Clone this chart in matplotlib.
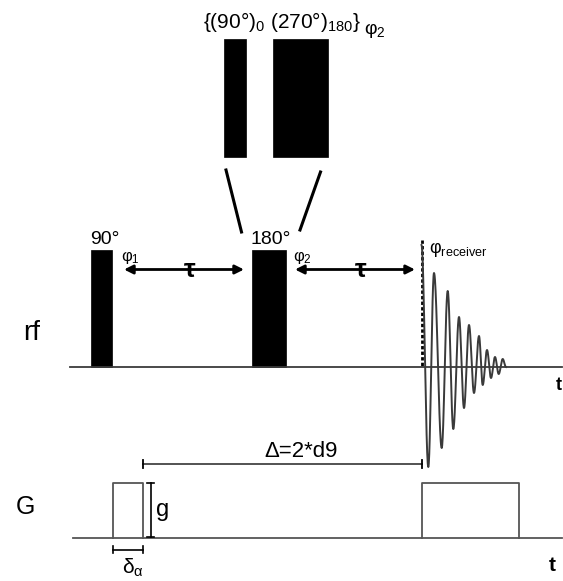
import numpy as np
import matplotlib.pyplot as plt
from matplotlib.patches import Rectangle

plt.rcParams['font.family'] = ['Liberation Sans', 'DejaVu Sans']
plt.rcParams['mathtext.fontset'] = 'custom'
plt.rcParams['mathtext.rm'] = 'Liberation Sans'
plt.rcParams['mathtext.it'] = 'Liberation Sans'
plt.rcParams['mathtext.bf'] = 'Liberation Sans:bold'

# time axis (drawing units) of the sequence
rf_base, g_base = 367, 538
rf_start, axis_end = 70, 562
g_start = 73

# rf pulses: (label, phase, start, end)
rf_pulses = [('90°', '1', 91, 112), ('180°', '2', 252, 286)]
rf_height = 117
acq_start = 421.5

# composite 180 expansion: (start, end)
composite = [(224, 246), (273, 328)]
comp_top, comp_bottom = 39, 157

# FID extrema (x, amplitude above baseline)
fid_x = [421.5, 428.3, 434, 441.7, 447.7, 453.3, 459, 464, 469, 474,
         479, 482.7, 487, 491, 495, 498.7, 502.7, 506]
fid_amp = [122, -100, 94, -81, 76, -62, 50, -41, 42, -26,
           31, -18, 17, -11, 10, -7, 8, 0]

# gradient pulses: (start, end)
g_pulses = [(113, 143), (422, 519)]
g_height = 55

delta_span = (143, 421.5)

fig = plt.figure(figsize=(5.63, 5.81), dpi=100)
ax = fig.add_axes([0, 0, 1, 1])
ax.set_xlim(0, 563)
ax.set_ylim(581, 0)
ax.axis('off')

line_col = '#3a3a3a'

# baselines
ax.plot([rf_start, axis_end], [rf_base, rf_base], color=line_col, lw=1.3)
ax.plot([g_start, axis_end], [g_base, g_base], color='#555555', lw=1.3)
ax.text(556, 377, 't', fontsize=13, fontweight='bold', va='top')
ax.text(552, 556, 't', fontsize=15, fontweight='bold', va='top', ha='center')

ax.text(32, 333, 'rf', fontsize=20, ha='center', va='center')
ax.text(25, 507, 'G', fontsize=18, ha='center', va='center')

# rf pulses and their labels
for label, ph, x0, x1 in rf_pulses:
    ax.add_patch(Rectangle((x0, rf_base - rf_height), x1 - x0, rf_height,
                           facecolor='black', edgecolor='black', lw=0.5))
    ax.text(x0 - 1, rf_base - rf_height - 6, label, fontsize=14,
            ha='left', va='baseline')
    ax.text(x1 + (9 if ph == '1' else 7), rf_base - rf_height - 1,
            r'φ$_{%s}$' % ph, fontsize=12, ha='left', va='top')

# tau arrows
for xa, xb in [(124, 244), (295, 415)]:
    ax.annotate('', xy=(xa, 269.5), xytext=(xb, 269.5),
                arrowprops=dict(arrowstyle='<|-|>', color='black', lw=2,
                                mutation_scale=13, shrinkA=0, shrinkB=0))
    ax.text((xa + xb) / 2 + 6, 277, 'τ', fontsize=19, fontweight='bold',
            ha='center', va='baseline')

# receiver trigger
ax.plot([acq_start, acq_start], [240, rf_base], color='black', lw=2,
        ls=(0, (1.2, 0.8)))
ax.text(429, 253, r'φ$_{\mathregular{receiver}}$', fontsize=13, ha='left',
        va='baseline')

# FID drawn as half-cosine segments between extrema
xs, ys = [], []
for i in range(len(fid_x) - 1):
    s = np.linspace(0, 1, 25)
    xs.append(fid_x[i] + (fid_x[i + 1] - fid_x[i]) * s)
    ys.append(fid_amp[i] + (fid_amp[i + 1] - fid_amp[i]) * (1 - np.cos(np.pi * s)) / 2)
xs = np.concatenate(xs)
ys = rf_base - np.concatenate(ys)
ax.plot(xs, ys, color=line_col, lw=1.4)

# composite pulse inset
for x0, x1 in composite:
    ax.add_patch(Rectangle((x0, comp_top), x1 - x0, comp_bottom - comp_top,
                           facecolor='black', edgecolor='black', lw=0.5))
ax.plot([226, 241.5], [170, 232], color='black', lw=2.2)
ax.plot([320.5, 300], [172, 230], color='black', lw=2.2)

ax.text(203, 28, r'{(90°)$_{0}$ (270°)$_{180}$}', fontsize=15, ha='left',
        va='baseline')
ax.text(364, 34, r'φ$_{2}$', fontsize=14, ha='left', va='baseline')

# gradient pulses
for x0, x1 in g_pulses:
    ax.plot([x0, x0, x1, x1], [g_base, g_base - g_height, g_base - g_height, g_base],
            color='#555555', lw=1.3)

# gradient amplitude marker
ax.plot([150.5, 150.5], [g_base - g_height, g_base - 1.5], color='black', lw=1.2)
for yy in (g_base - g_height, g_base - 1.5):
    ax.plot([147, 154], [yy, yy], color='black', lw=1.2)
ax.text(156, 510, 'g', fontsize=17, ha='left', va='center')

# gradient duration marker
x0, x1 = g_pulses[0]
ax.plot([x0, x1], [549.5, 549.5], color='black', lw=1.2)
for xx in (x0, x1):
    ax.plot([xx, xx], [546, 553], color='black', lw=1.2)
ax.text(122, 574, r'δ$_{\mathregular{α}}$', fontsize=15, ha='left', va='baseline')

# diffusion delay
ax.plot(delta_span, [463.5, 463.5], color='#444444', lw=1.3)
for xx in delta_span:
    ax.plot([xx, xx], [459.5, 467.5], color='black', lw=1.3)
ax.text(301, 457, 'Δ=2*d9', fontsize=16, ha='center', va='baseline',
        family=['Liberation Sans Narrow', 'Liberation Sans', 'DejaVu Sans'])

fig.savefig('out.png', dpi=100)
